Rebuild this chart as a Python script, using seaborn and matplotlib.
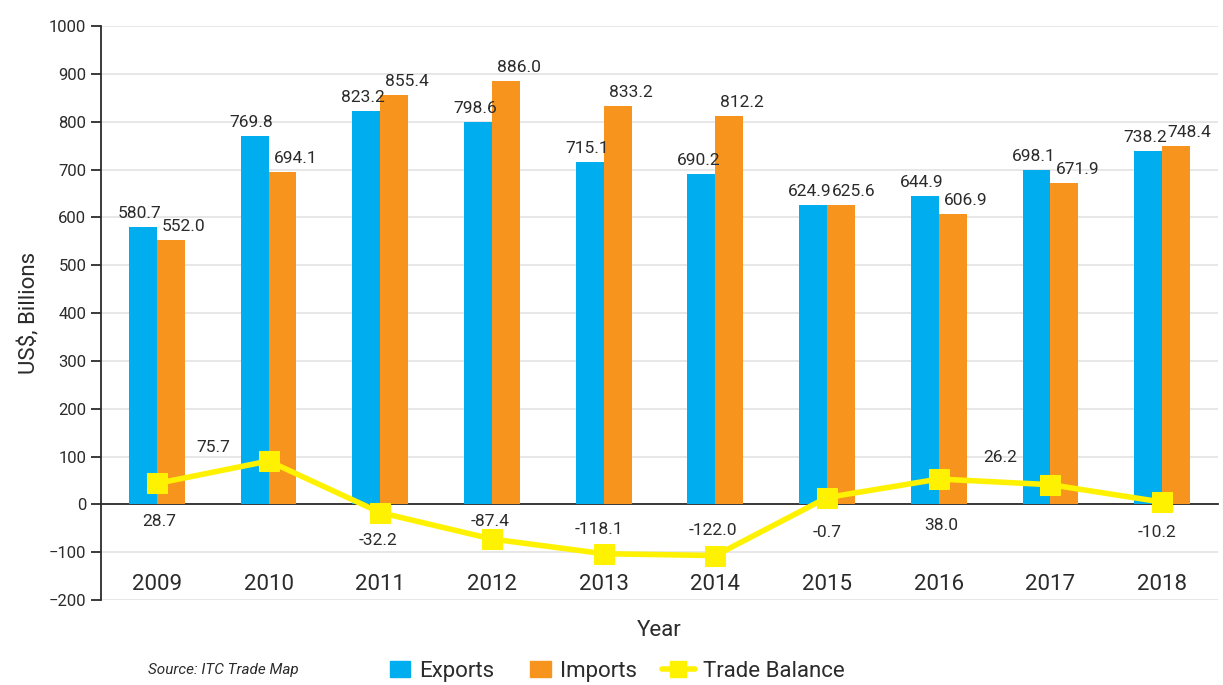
import numpy as np
import pandas as pd
import matplotlib
matplotlib.use("Agg")
import matplotlib.pyplot as plt
from matplotlib.lines import Line2D
from matplotlib.patches import Patch
import seaborn as sns

# Data
years = ["2009", "2010", "2011", "2012", "2013", "2014", "2015", "2016", "2017", "2018"]
exports = [580.7, 769.8, 823.2, 798.6, 715.1, 690.2, 624.9, 644.9, 698.1, 738.2]
imports = [552.0, 694.1, 855.4, 886.0, 833.2, 812.2, 625.6, 606.9, 671.9, 748.4]
trade_balance = [28.7, 75.7, -32.2, -87.4, -118.1, -122.0, -0.7, 38.0, 26.2, -10.2]

# label offsets (pixels) for the trade balance values
tb_offsets = [(2, -38), (-55, 14), (-2, -28), (-2, 18), (-5, 24),
              (-2, 25), (0, -35), (3, -46), (-50, 27), (-5, -30)]

BLUE = "#00AEEF"
ORANGE = "#F7941D"
YELLOW = "#FFF200"
TEXT = "#2b2b2b"

sns.set_style("white")
plt.rcParams["font.family"] = ["Roboto", "DejaVu Sans"]

df = pd.DataFrame({"Year": years * 2,
                   "Value": exports + imports,
                   "Series": ["Exports"] * len(years) + ["Imports"] * len(years)})

fig = plt.figure(figsize=(12.23, 6.85), dpi=100)
ax = fig.add_axes([0.0826, 0.124, 0.9133, 0.838])

sns.barplot(data=df, x="Year", y="Value", hue="Series", order=years,
            palette=[BLUE, ORANGE], width=0.5, saturation=1, gap=0,
            legend=False, ax=ax, zorder=3, edgecolor="none", linewidth=0)

ax.set_ylim(-200, 1000)
ax.set_xlim(-0.5, len(years) - 0.5)
ax.set_yticks(np.arange(-200, 1001, 100))
ax.yaxis.grid(True, color="#e3e3e3", linewidth=1.2, zorder=0)
ax.xaxis.grid(False)

# spines: category axis sits on zero
for s in ["top", "right"]:
    ax.spines[s].set_visible(False)
ax.spines["bottom"].set_position(("data", 0))
ax.spines["bottom"].set_color(TEXT)
ax.spines["bottom"].set_linewidth(1.3)
ax.spines["left"].set_color(TEXT)
ax.spines["left"].set_linewidth(1.3)

ax.set_xticks(range(len(years)))
ax.set_xticklabels(years, fontsize=16, color=TEXT)
ax.set_xticks(np.arange(0.5, len(years), 1), minor=True)
ax.tick_params(axis="x", which="major", length=0, pad=50)
ax.tick_params(axis="x", which="minor", length=10, width=1.3, color=TEXT, direction="out")
ax.tick_params(axis="y", length=7, width=1.3, color=TEXT, labelsize=12, labelcolor=TEXT)

ax.set_xlabel("Year", fontsize=16, color=TEXT, labelpad=18)
ax.set_ylabel("US$, Billions", fontsize=16, color=TEXT, labelpad=6)

# bar value labels
for cont, dx in zip(ax.containers, [-3, 13]):
    for bar in cont:
        h = bar.get_height()
        ax.annotate(f"{h:.1f}", (bar.get_x() + bar.get_width() / 2, h),
                    xytext=(dx, 6), textcoords="offset pixels",
                    ha="center", va="bottom", fontsize=12.5, color=TEXT, zorder=5)

# trade balance on a secondary (hidden) axis, slightly shifted like the original
ax2 = ax.twinx()
sns.lineplot(x=np.arange(len(years)), y=trade_balance, ax=ax2, color=YELLOW,
             linewidth=4, marker="s", markersize=14, markeredgecolor=YELLOW)
ax2.set_ylim(-215, 985)
ax2.set_xlim(ax.get_xlim())
ax2.axis("off")

for i, (v, (dx, dy)) in enumerate(zip(trade_balance, tb_offsets)):
    ax2.annotate(f"{v:.1f}", (i, v), xytext=(dx, dy), textcoords="offset pixels",
                 ha="center", va="center", fontsize=12.5, color=TEXT)

# legend and source
handles = [Patch(color=BLUE, label="Exports"),
           Patch(color=ORANGE, label="Imports"),
           Line2D([0], [0], color=YELLOW, linewidth=4, marker="s", markersize=12,
                  label="Trade Balance")]
leg = fig.legend(handles=handles, loc="center", bbox_to_anchor=(0.500, 0.02), ncol=3,
                 frameon=False, fontsize=16, handlelength=1.5, handleheight=0.75,
                 columnspacing=1.1, handletextpad=0.35, labelcolor=TEXT)
for patch in leg.get_patches():
    patch.set_width(15)
    patch.set_x(patch.get_x() + 8)

fig.text(0.121, 0.022, "Source: ITC Trade Map", fontsize=11, style="italic",
         color=TEXT, va="center")

fig.savefig("out.png", dpi=100)
